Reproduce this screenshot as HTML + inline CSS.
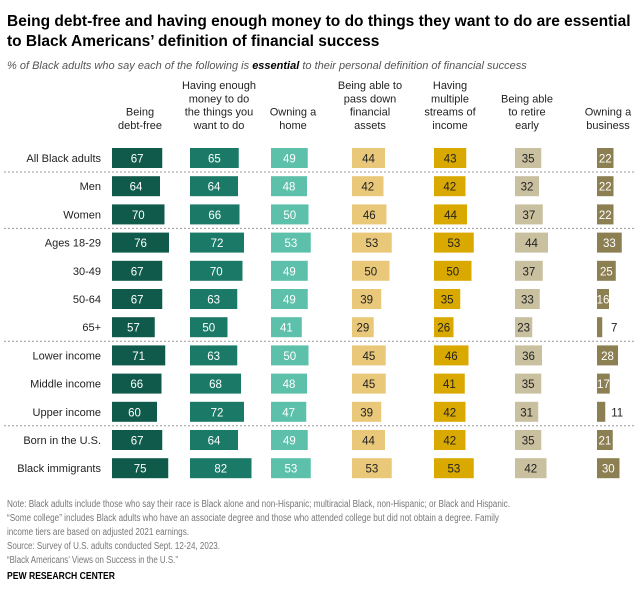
<!DOCTYPE html>
<html><head><meta charset="utf-8">
<style>
body{margin:0;background:#fff;font-family:"Liberation Sans",sans-serif;}
#wrap{position:relative;width:640px;height:598px;overflow:hidden;}
svg text{font-family:"Liberation Sans",sans-serif;}
</style></head>
<body>
<div id="wrap">
<svg id="chart" width="640" height="598">
<text x="7" y="26" font-size="15.5" font-weight="bold" fill="#000">Being debt-free and having enough money to do things they want to do are essential</text>
<text x="7" y="46" font-size="15.5" font-weight="bold" fill="#000">to Black Americans’ definition of financial success</text>
<text x="7" y="69" font-size="11" font-style="italic" fill="#555">% of Black adults who say each of the following is <tspan font-weight="bold" fill="#000">essential</tspan> to their personal definition of financial success</text>
<g id="notes" font-size="10" fill="#777">
<text x="7" y="507" textLength="503" lengthAdjust="spacingAndGlyphs">Note: Black adults include those who say their race is Black alone and non-Hispanic; multiracial Black, non-Hispanic; or Black and Hispanic.</text>
<text x="7" y="521" textLength="492" lengthAdjust="spacingAndGlyphs">“Some college” includes Black adults who have an associate degree and those who attended college but did not obtain a degree. Family</text>
<text x="7" y="535" textLength="182" lengthAdjust="spacingAndGlyphs">income tiers are based on adjusted 2021 earnings.</text>
<text x="7" y="549" textLength="213" lengthAdjust="spacingAndGlyphs">Source: Survey of U.S. adults conducted Sept. 12-24, 2023.</text>
<text x="7" y="563" textLength="171" lengthAdjust="spacingAndGlyphs">“Black Americans’ Views on Success in the U.S.”</text>
</g>
<text x="7" y="579" font-size="10" font-weight="bold" fill="#000" textLength="108" lengthAdjust="spacingAndGlyphs">PEW RESEARCH CENTER</text>
</svg>
</div>
<script>
const categories=["All Black adults","Men","Women","Ages 18-29","30-49","50-64","65+","Lower income","Middle income","Upper income","Born in the U.S.","Black immigrants"];
const seriesNames=[["Being","debt-free"],["Having enough","money to do","the things you","want to do"],["Owning a","home"],["Being able to","pass down","financial","assets"],["Having","multiple","streams of","income"],["Being able","to retire","early"],["Owning a","business"]];
const debtFree=[67,64,70,76,67,67,57,71,66,60,67,75];
const enoughMoney=[65,64,66,72,70,63,50,63,68,72,64,82];
const ownHome=[49,48,50,53,49,49,41,50,48,47,49,53];
const passAssets=[44,42,46,53,50,39,29,45,45,39,44,53];
const multiIncome=[43,42,44,53,50,35,26,46,41,42,42,53];
const retireEarly=[35,32,37,44,37,33,23,36,35,31,35,42];
const ownBusiness=[22,22,22,33,25,16,7,28,17,11,21,30];
const series=[debtFree,enoughMoney,ownHome,passAssets,multiIncome,retireEarly,ownBusiness];

const NS="http://www.w3.org/2000/svg";
const svg=document.getElementById('chart');
const colX=[112,190,271,352,434,515,597];
const colors=["#0f5a4a","#1b7a67","#5cc0aa","#eac87a","#d9a900","#c9c0a0","#8c7f52"];
const txtColors=["#fff","#fff","#fff","#222","#222","#222","#fff"];
const scale=0.75;
const xLen=v=>v*scale;
const rowY=i=>158+i*28.2;
const seps=[0,2,6,9];
function mk(tag,attrs){const e=document.createElementNS(NS,tag);for(const k in attrs)e.setAttribute(k,attrs[k]);svg.appendChild(e);return e;}
seriesNames.forEach((lines,c)=>{
  const cx=c===6?608:colX[c]+ (c===0?28:c===1?29:c===2?22:c===3?18:c===4?16:c===5?12:10);
  lines.forEach((ln,k)=>{
    const t=mk('text',{x:cx,y:129-(lines.length-1-k)*13.3,'font-size':11,'text-anchor':'middle',fill:'#222'});
    
    
    t.textContent=ln;
  });
});
seps.forEach(s=>{
  const y=rowY(s)+14;
  const l=mk('line',{x1:4,x2:634,y1:y,y2:y,stroke:'#999','stroke-dasharray':'2,2','stroke-width':1});
  
  
});
categories.forEach((cat,i)=>{
  const y=rowY(i);
  const t=mk('text',{x:101,y:y+4,'font-size':11,'text-anchor':'end',fill:'#222'});
  
  
  t.textContent=cat;
  series.forEach((arr,c)=>{
    const v=arr[i];const w=xLen(v);
    const r=mk('rect',{x:colX[c],y:y-10,width:w,height:20,fill:colors[c]});
    
    
    const outside=v<12;
    const lt=mk('text',{x:outside?colX[c]+w+12:colX[c]+w/2,y:y+4.5,'font-size':11.5,'text-anchor':'middle',fill:outside?'#222':txtColors[c]});
    
    
    lt.textContent=v;
  });
});
</script>
</body></html>
